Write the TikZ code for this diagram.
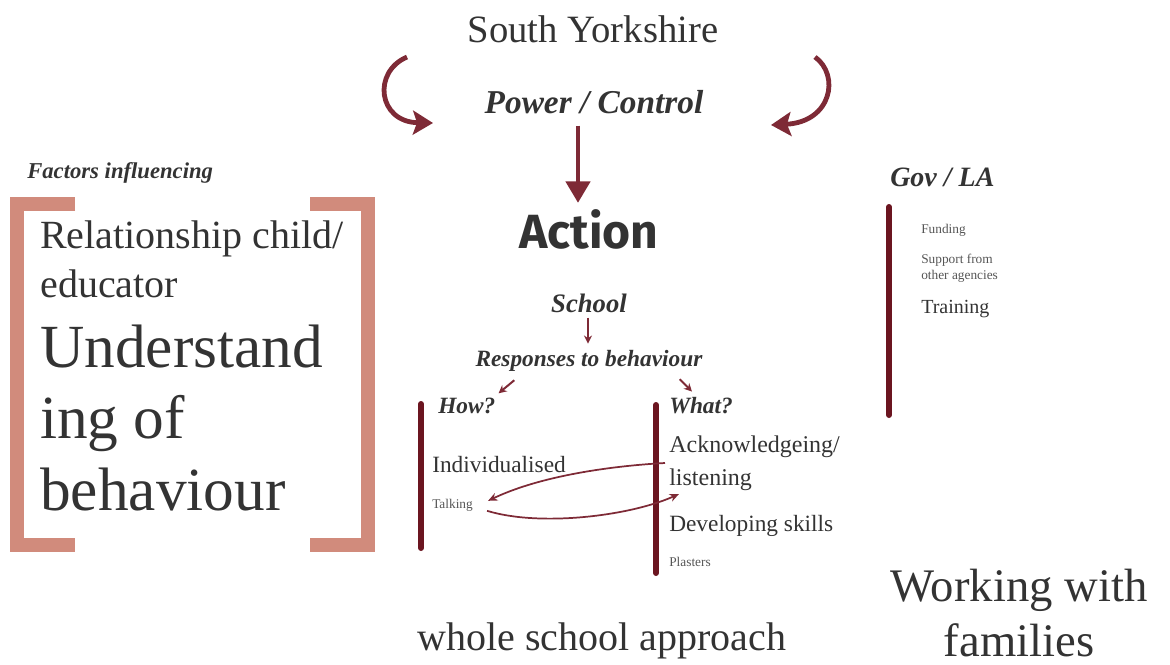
\documentclass[tikz,border=0pt]{standalone}
\usepackage{fontspec}
\setmainfont{Liberation Serif}
\newfontfamily\brushfont{Fira Sans}
\usetikzlibrary{arrows.meta,calc}
\definecolor{maroon}{HTML}{6B1520}
\definecolor{wine}{HTML}{7E2A36}
\definecolor{salmon}{HTML}{D18B7C}
\definecolor{ink}{HTML}{333333}
\definecolor{soft}{HTML}{555555}

\begin{document}
\begin{tikzpicture}[x=0.75pt,y=0.75pt,yscale=-1,
  txt/.style={inner sep=0pt,text=ink},
  small/.style={inner sep=0pt,text=soft,font=\fontsize{10}{12}\selectfont},
  bar/.style={line width=4.5pt,line cap=round,color=maroon},
  bracket/.style={line width=10.5pt,color=salmon},
  curly/.style={line width=3.6pt,color=wine,-{Stealth[length=15pt,width=18pt,inset=3pt]}},
  droparrow/.style={line width=3.2pt,color=wine,-{Triangle[length=16pt,width=18pt]}},
  tick/.style={line width=1.5pt,color=wine,-{Stealth[length=6pt,width=6pt]}},
  crossarrow/.style={line width=1.3pt,color=wine,-{Stealth[length=7pt,width=6pt]}}]
\useasboundingbox (0,0) rectangle (1170,664);

% Top
\node[txt,anchor=base,font=\fontsize{29}{35}\selectfont] (south) at (593,42) {South Yorkshire};
\node[txt,anchor=base,font=\fontsize{25}{30}\selectfont\bfseries\itshape] (power) at (594,113) {Power / Control};
\node[txt,anchor=base,font=\fontsize{36}{40}\selectfont\brushfont\bfseries] (action) at (589,248) {Action};

\coordinate (lstart) at (407,57);
\coordinate (lend) at (433,123);
\coordinate (rstart) at (815,57);
\coordinate (rend) at (771,125);
\draw[curly] (lstart) .. controls (372,72) and (378,122) .. (lend);
\draw[curly] (rstart) .. controls (840,75) and (832,122) .. (rend);
\draw[droparrow] ($(power.south)+(-16,12)$) -- ($(action.north)+(-11,-6)$);

% School
\node[txt,anchor=base,font=\fontsize{20}{24}\selectfont\bfseries\itshape] (school) at (589,312) {School};
\node[txt,anchor=base,font=\fontsize{17.5}{21}\selectfont\bfseries\itshape] (resp) at (589,366) {Responses to behaviour};
\node[txt,anchor=base west,font=\fontsize{17.5}{21}\selectfont\bfseries\itshape] (how) at (438,413) {How?};
\node[txt,anchor=base west,font=\fontsize{17.5}{21}\selectfont\bfseries\itshape] (what) at (669,413) {What?};
\draw[tick] ($(school.south)+(-1,5)$) -- ($(resp.north)+(-1,-6)$);
\draw[tick] ($(resp.south west)+(39,9)$) -- ($(how.north east)+(3,-4)$);
\draw[tick] ($(resp.south east)+(-23,8)$) -- ($(what.north west)+(23,-5)$);

\draw[bar] (421,404) -- (421,548);
\draw[bar] (656,405) -- (656,573);

\node[txt,anchor=base west,font=\fontsize{17.5}{22}\selectfont] (indiv) at (432,472) {Individualised};
\node[small,anchor=base west] (talking) at (432,508) {Talking};
\node[txt,anchor=base west,font=\fontsize{18}{22}\selectfont] (ack) at (669,452) {Acknowledgeing/};
\node[txt,anchor=base west,font=\fontsize{18}{22}\selectfont] (listen) at (669,485) {listening};
\node[txt,anchor=base west,font=\fontsize{17.5}{22}\selectfont] (devel) at (669,531) {Developing skills};
\node[small,anchor=base west] (plasters) at (669,566) {Plasters};

\draw[crossarrow] ($(ack.base west)+(-4,11)$) .. controls (610,466) and (540,476) .. ($(talking.east)+(15,-4)$);
\draw[crossarrow] ($(talking.east)+(14,6)$) .. controls (540,527) and (630,516) .. ($(listen.base west)+(10,9)$);

% Gov / LA
\node[txt,anchor=base west,font=\fontsize{21}{25}\selectfont\bfseries\itshape] (gov) at (890,186) {Gov / LA};
\draw[bar] (889,207) -- (889,415);
\node[small,anchor=base west] (funding) at (921,233) {Funding};
\node[small,anchor=base west] (support) at (921,263) {Support from};
\node[small,anchor=base west] (agencies) at (921,279) {other agencies};
\node[txt,anchor=base west,font=\fontsize{15}{18}\selectfont] (training) at (921,313) {Training};

% Factors
\node[txt,anchor=base west,font=\fontsize{17}{20}\selectfont\bfseries\itshape] (factors) at (27,178) {Factors influencing};
\draw[bracket] (75,204) -- (17,204) -- (17,545) -- (75,545);
\draw[bracket] (310,204) -- (368,204) -- (368,545) -- (310,545);
\node[txt,anchor=base west,font=\fontsize{30}{35}\selectfont] (rel) at (40,248) {Relationship child/};
\node[txt,anchor=base west,font=\fontsize{30}{35}\selectfont] (educ) at (40,297) {educator};
\node[txt,anchor=base west,font=\fontsize{46}{54}\selectfont] (und) at (40,367) {Understand};
\node[txt,anchor=base west,font=\fontsize{46}{54}\selectfont] (ingof) at (40,438) {ing of};
\node[txt,anchor=base west,font=\fontsize{46}{54}\selectfont] (behav) at (40,510) {behaviour};

% Bottom
\node[txt,anchor=base,font=\fontsize{30}{36}\selectfont] (whole) at (602,650) {whole school approach};
\node[txt,anchor=base,font=\fontsize{35}{42}\selectfont] (working) at (1019,601) {Working with};
\node[txt,anchor=base,font=\fontsize{35}{42}\selectfont] (families) at (1019,656) {families};

\end{tikzpicture}
\end{document}
